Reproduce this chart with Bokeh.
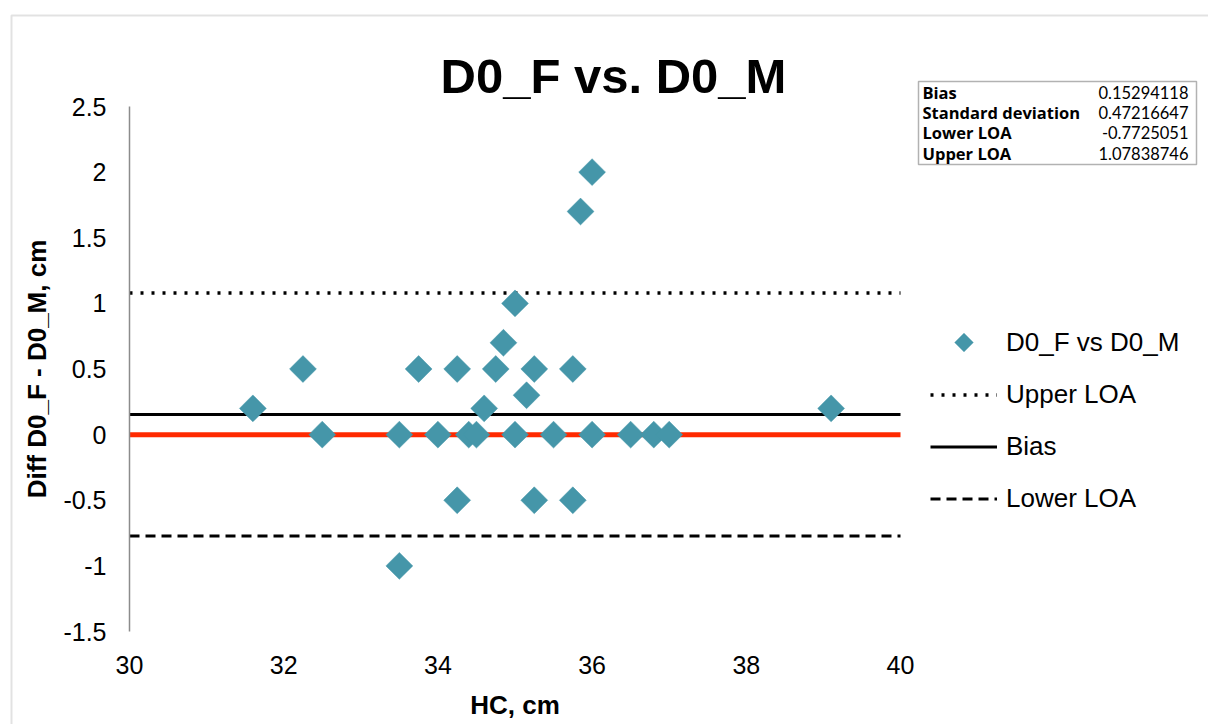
import numpy as np
from bokeh.plotting import figure
from bokeh.models import (Range1d, FixedTicker, Label, BoxAnnotation, PolyAnnotation,
                          Legend, LegendItem, ColumnDataSource)
from bokeh.embed import file_html
from bokeh.resources import INLINE

# ---- data ----
hc = [31.6, 32.25, 32.5, 33.5, 33.5, 33.75, 34.0, 34.25, 34.25, 34.4,
      34.5, 34.6, 34.75, 34.85, 35.0, 35.0, 35.15, 35.25, 35.25, 35.5,
      35.75, 35.75, 35.85, 36.0, 36.0, 36.5, 36.8, 37.0, 39.1]
diff = [0.2, 0.5, 0.0, 0.0, -1.0, 0.5, 0.0, 0.5, -0.5, 0.0,
        0.0, 0.2, 0.5, 0.7, 1.0, 0.0, 0.3, 0.5, -0.5, 0.0,
        0.5, -0.5, 1.7, 2.0, 0.0, 0.0, 0.0, 0.0, 0.2]

bias = 0.15294118
std_dev = 0.47216647
lower_loa = -0.7725051
upper_loa = 1.07838746
zero_level = 0.0

stat_names = ["Bias", "Standard deviation", "Lower LOA", "Upper LOA"]
stat_values = ["0.15294118", "0.47216647", "-0.7725051", "1.07838746"]

x_ticks = [30, 32, 34, 36, 38, 40]
x_tick_labels = ["30", "32", "34", "36", "38", "40"]
y_ticks = [-1.5, -1.0, -0.5, 0.0, 0.5, 1.0, 1.5, 2.0, 2.5]
y_tick_labels = ["-1.5", "-1", "-0.5", "0", "0.5", "1", "1.5", "2", "2.5"]

x_min, x_max = 30, 40
y_min, y_max = -1.5, 2.5

# ---- layout (pixels) ----
W, H = 1208, 724
AX_LEFT, AX_TOP = 129, 106          # pixel of x_min and of y_max
X_PX, Y_PX = 77.1, 131.25           # pixels per data unit
FONT = "Liberation Sans"
TEAL = "#4596a9"

x0 = x_min - AX_LEFT / X_PX
y1 = y_max + AX_TOP / Y_PX
p = figure(width=W, height=H, output_backend="svg", toolbar_location=None,
           x_range=Range1d(x0, x0 + W / X_PX), y_range=Range1d(y1 - H / Y_PX, y1),
           min_border_left=0, min_border_right=0, min_border_top=0, min_border_bottom=0)
p.title.visible = False
p.outline_line_color = None
p.xgrid.visible = False
p.ygrid.visible = False
p.background_fill_color = "white"
p.border_fill_color = "white"

# axes fixed inside the frame
xa = p.xaxis[0]
xa.fixed_location = y_min
xa.bounds = (x_min, x_max)
xa.ticker = FixedTicker(ticks=x_ticks)
xa.major_label_overrides = {t: l for t, l in zip(x_ticks, x_tick_labels)}
xa.axis_line_color = None
xa.major_tick_line_color = None
xa.minor_tick_line_color = None
xa.major_tick_out = 0
xa.major_tick_in = 0
xa.major_label_text_font = FONT
xa.major_label_text_font_size = "25px"
xa.major_label_text_color = "black"
xa.major_label_standoff = 24
xa.axis_label = "HC, cm"
xa.axis_label_text_font = FONT
xa.axis_label_text_font_style = "bold"
xa.axis_label_text_font_size = "26px"
xa.axis_label_text_color = "black"
xa.axis_label_standoff = 13

ya = p.yaxis[0]
ya.fixed_location = x_min
ya.bounds = (y_min, y_max)
ya.ticker = FixedTicker(ticks=y_ticks)
ya.major_label_overrides = {t: l for t, l in zip(y_ticks, y_tick_labels)}
ya.axis_line_color = "#8c8c8c"
ya.axis_line_width = 1.5
ya.major_tick_line_color = None
ya.minor_tick_line_color = None
ya.major_tick_out = 0
ya.major_tick_in = 0
ya.major_label_text_font = FONT
ya.major_label_text_font_size = "25px"
ya.major_label_text_color = "black"
ya.major_label_standoff = 23
ya.axis_label = "Diff D0_F - D0_M, cm"
ya.axis_label_text_font = FONT
ya.axis_label_text_font_style = "bold"
ya.axis_label_text_font_size = "26px"
ya.axis_label_text_color = "black"
ya.axis_label_standoff = 8

lx = [x_min, x_max]
# red zero line (horizontal axis)
p.line(lx, [zero_level, zero_level], line_color="#ff2a00", line_width=5)

# reference lines
r_upper = p.line(lx, [upper_loa, upper_loa], line_color="black", line_width=3.5,
                 line_dash="3 8")
r_bias = p.line(lx, [bias, bias], line_color="black", line_width=3)
r_lower = p.line(lx, [lower_loa, lower_loa], line_color="black", line_width=3,
                 line_dash="10 6")

# points
src = ColumnDataSource(dict(x=hc, y=diff))
r_pts = p.scatter("x", "y", source=src, marker="square", angle=np.pi / 4,
                  size=19, fill_color=TEAL, line_color=TEAL, line_width=0.5)

# legend key holder for the points (the diamond key itself is drawn below)
r_key = p.scatter(x=[], y=[], marker="square", fill_alpha=0, line_alpha=0)

LEG_X, LEG_TOP, GLYPH_W, ROW_H, ROW_GAP = 930, 324.5, 67, 35, 17
legend = Legend(items=[LegendItem(label="D0_F vs D0_M", renderers=[r_key]),
                       LegendItem(label="Upper LOA", renderers=[r_upper]),
                       LegendItem(label="Bias", renderers=[r_bias]),
                       LegendItem(label="Lower LOA", renderers=[r_lower])],
                location=(LEG_X, H - (LEG_TOP + 4 * ROW_H + 3 * ROW_GAP)),
                orientation="vertical",
                glyph_width=GLYPH_W, glyph_height=ROW_H, label_height=ROW_H,
                label_standoff=9, spacing=ROW_GAP, padding=0, margin=0,
                border_line_color=None, background_fill_alpha=0,
                label_text_font=FONT, label_text_font_size="26px",
                label_text_color="black", label_text_baseline="middle")
p.add_layout(legend, "center")

# diamond legend key
kx, ky, kr = LEG_X + GLYPH_W / 2, H - (LEG_TOP + ROW_H / 2), 9.5
p.add_layout(PolyAnnotation(xs=[kx - kr, kx, kx + kr, kx], ys=[ky, ky + kr, ky, ky - kr],
                            xs_units="screen", ys_units="screen",
                            fill_color=TEAL, fill_alpha=1, line_color=TEAL, line_width=0.5))

# title
p.add_layout(Label(x=613, y=H - 75, x_units="screen", y_units="screen",
                   text="D0_F vs. D0_M", text_font=FONT,
                   text_font_size="49px",
                   text_font_style="bold", text_align="center",
                   text_baseline="middle", text_color="black"))

# statistics box
p.add_layout(BoxAnnotation(left=918, right=1196, top=H - 81, bottom=H - 164,
                           left_units="screen", right_units="screen",
                           top_units="screen", bottom_units="screen",
                           fill_alpha=0, line_color="black", line_width=1.5))
row_y = [92, 112, 132, 153]
for name, val, yy in zip(stat_names, stat_values, row_y):
    p.add_layout(Label(x=922, y=H - yy, x_units="screen", y_units="screen",
                       text=name, text_font="Open Sans", text_font_size="16.5px",
                       text_font_style="bold", text_align="left",
                       text_baseline="middle", text_color="black"))
    p.add_layout(Label(x=1188, y=H - yy, x_units="screen", y_units="screen",
                       text=val, text_font="Lato", text_font_size="16.5px",
                       text_align="right", text_baseline="middle",
                       text_color="black"))

# chart-area border (left and top edges visible)
p.add_layout(BoxAnnotation(left=11, right=3000, top=H - 15, bottom=-3000,
                           left_units="screen", right_units="screen",
                           top_units="screen", bottom_units="screen",
                           fill_alpha=0, line_color="#a0a0a0", line_width=2))

open("out.html", "w").write(file_html(p, INLINE))
